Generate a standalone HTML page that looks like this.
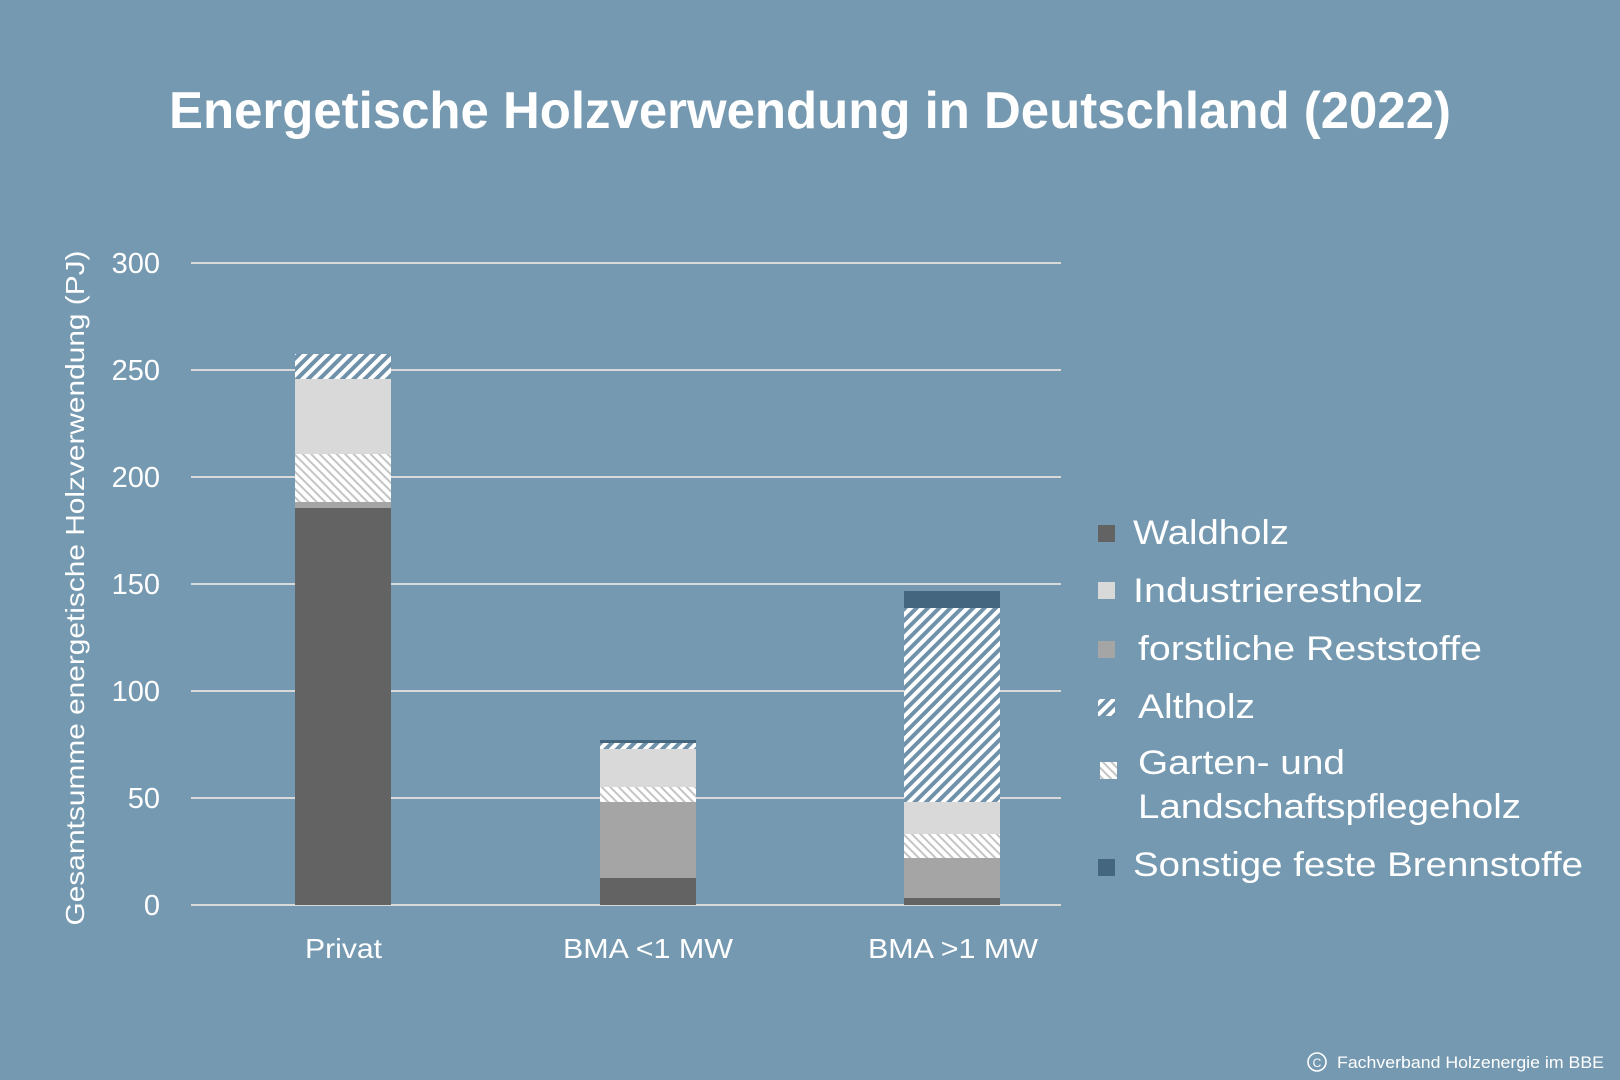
<!DOCTYPE html>
<html><head><meta charset="utf-8"><style>
html,body{margin:0;padding:0;background:#7599b0;}
svg{display:block;font-family:"Liberation Sans",sans-serif;}
</style></head><body>
<svg width="1620" height="1080" viewBox="0 0 1620 1080" xmlns="http://www.w3.org/2000/svg">
<defs>
<pattern id="alt" patternUnits="userSpaceOnUse" width="8" height="8" patternTransform="rotate(45)">
<rect width="8" height="8" fill="#6f92aa"/><rect width="4" height="8" fill="#ffffff"/>
</pattern>
<pattern id="gar" patternUnits="userSpaceOnUse" width="6" height="6" patternTransform="rotate(-45)">
<rect width="6" height="6" fill="#ffffff"/><rect width="2" height="6" fill="#c4c4c4"/>
</pattern>
</defs>
<rect width="1620" height="1080" fill="#7599b0"/>
<text x="810" y="128" text-anchor="middle" font-size="52" font-weight="bold" fill="#fff" textLength="1282" lengthAdjust="spacingAndGlyphs">Energetische Holzverwendung in Deutschland (2022)</text>
<g stroke="#d9d9d9" stroke-width="2">
<line x1="191" x2="1061" y1="263" y2="263"/>
<line x1="191" x2="1061" y1="370" y2="370"/>
<line x1="191" x2="1061" y1="477" y2="477"/>
<line x1="191" x2="1061" y1="584" y2="584"/>
<line x1="191" x2="1061" y1="691" y2="691"/>
<line x1="191" x2="1061" y1="798" y2="798"/>
<line x1="191" x2="1061" y1="905" y2="905"/>
</g>
<g font-size="29" fill="#fff" text-anchor="end">
<text x="160" y="273">300</text><text x="160" y="380">250</text><text x="160" y="487">200</text>
<text x="160" y="594">150</text><text x="160" y="701">100</text><text x="160" y="808">50</text><text x="160" y="915">0</text>
</g>
<text transform="translate(84,588) rotate(-90)" text-anchor="middle" font-size="26" fill="#fff" textLength="675" lengthAdjust="spacingAndGlyphs">Gesamtsumme energetische Holzverwendung (PJ)</text>
<rect x="295" y="508" width="96" height="397" fill="#636363"/>
<rect x="295" y="502" width="96" height="6" fill="#a5a5a5"/>
<rect x="295" y="454" width="96" height="48" fill="url(#gar)"/>
<rect x="295" y="379" width="96" height="75" fill="#d9d9d9"/>
<rect x="295" y="354" width="96" height="25" fill="url(#alt)"/>
<rect x="600" y="878" width="96" height="27" fill="#636363"/>
<rect x="600" y="802" width="96" height="76" fill="#a5a5a5"/>
<rect x="600" y="787" width="96" height="15" fill="url(#gar)"/>
<rect x="600" y="749" width="96" height="38" fill="#d9d9d9"/>
<rect x="600" y="743" width="96" height="6" fill="url(#alt)"/>
<rect x="600" y="740" width="96" height="3" fill="#44677f"/>
<rect x="904" y="898" width="96" height="7" fill="#636363"/>
<rect x="904" y="858" width="96" height="40" fill="#a5a5a5"/>
<rect x="904" y="834" width="96" height="24" fill="url(#gar)"/>
<rect x="904" y="802" width="96" height="32" fill="#d9d9d9"/>
<rect x="904" y="608" width="96" height="194" fill="url(#alt)"/>
<rect x="904" y="591" width="96" height="17" fill="#44677f"/>
<g font-size="28" fill="#fff">
<text x="305" y="958" textLength="77" lengthAdjust="spacingAndGlyphs">Privat</text>
<text x="563" y="958" textLength="170" lengthAdjust="spacingAndGlyphs">BMA &lt;1 MW</text>
<text x="868" y="958" textLength="170" lengthAdjust="spacingAndGlyphs">BMA &gt;1 MW</text>
</g>
<rect x="1098" y="525" width="17" height="17" fill="#636363"/>
<rect x="1098" y="582" width="17" height="17" fill="#d9d9d9"/>
<rect x="1098" y="641" width="17" height="17" fill="#a5a5a5"/>
<rect x="1098" y="699" width="17" height="17" fill="url(#alt)"/>
<rect x="1100" y="762" width="17" height="17" fill="url(#gar)"/>
<rect x="1098" y="859" width="17" height="17" fill="#44677f"/>
<g font-size="34" fill="#fff" lengthAdjust="spacingAndGlyphs">
<text x="1133" y="544" textLength="156" lengthAdjust="spacingAndGlyphs">Waldholz</text>
<text x="1133" y="602" textLength="290" lengthAdjust="spacingAndGlyphs">Industrierestholz</text>
<text x="1138" y="660" textLength="344" lengthAdjust="spacingAndGlyphs">forstliche Reststoffe</text>
<text x="1138" y="718" textLength="117" lengthAdjust="spacingAndGlyphs">Altholz</text>
<text x="1138" y="774" textLength="207" lengthAdjust="spacingAndGlyphs">Garten- und</text>
<text x="1138" y="818" textLength="383" lengthAdjust="spacingAndGlyphs">Landschaftspflegeholz</text>
<text x="1133" y="876" textLength="450" lengthAdjust="spacingAndGlyphs">Sonstige feste Brennstoffe</text>
</g>
<circle cx="1317" cy="1062" r="9" fill="none" stroke="#fff" stroke-width="1.6"/>
<text x="1317" y="1067" text-anchor="middle" font-size="12" fill="#fff">C</text>
<text x="1337" y="1068" font-size="17" fill="#fff" textLength="267" lengthAdjust="spacingAndGlyphs">Fachverband Holzenergie im BBE</text>
</svg>
</body></html>
